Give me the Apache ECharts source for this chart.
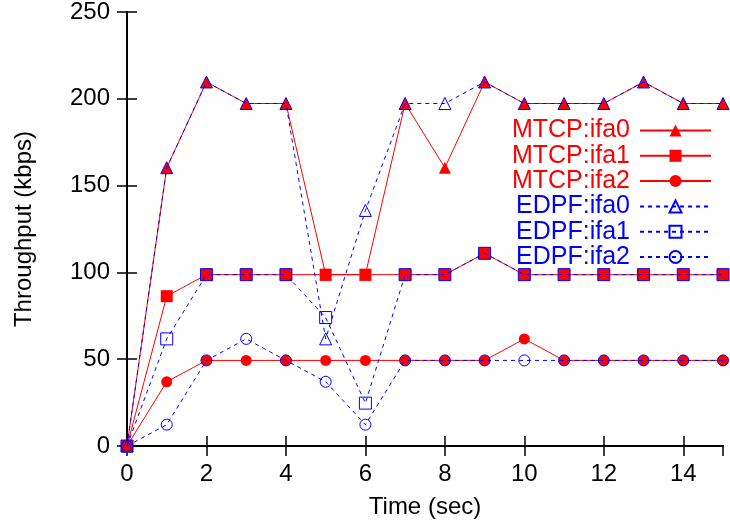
<!DOCTYPE html>
<html>
<head>
<meta charset="utf-8">
<script src="https://cdn.jsdelivr.net/npm/echarts@6/dist/echarts.min.js"></script>
<style>html,body{margin:0;padding:0;background:#fff;}#c{width:730px;height:524px;}</style>
</head>
<body>
<div id="c"></div>
<script>
var times = [0,1,2,3,4,5,6,7,8,9,10,11,12,13,14,15];
var mtcpIfa0 = [0,160.3,209.7,197.3,197.3,98.7,98.7,197.3,160.3,209.7,197.3,197.3,197.3,209.7,197.3,197.3];
var mtcpIfa1 = [0,86.3,98.7,98.7,98.7,98.7,98.7,98.7,98.7,111,98.7,98.7,98.7,98.7,98.7,98.7];
var mtcpIfa2 = [0,37,49.3,49.3,49.3,49.3,49.3,49.3,49.3,49.3,61.7,49.3,49.3,49.3,49.3,49.3];
var edpfIfa0 = [0,160.3,209.7,197.3,197.3,61.7,135.7,197.3,197.3,209.7,197.3,197.3,197.3,209.7,197.3,197.3];
var edpfIfa1 = [0,61.7,98.7,98.7,98.7,74,24.7,98.7,98.7,111,98.7,98.7,98.7,98.7,98.7,98.7];
var edpfIfa2 = [0,12.3,49.3,61.7,49.3,37,12.3,49.3,49.3,49.3,49.3,49.3,49.3,49.3,49.3,49.3];
var xTicks = [0,2,4,6,8,10,12,14];
var yTicks = [0,50,100,150,200,250];
var seriesNames = ['MTCP:ifa0','MTCP:ifa1','MTCP:ifa2','EDPF:ifa0','EDPF:ifa1','EDPF:ifa2'];

var RED = '#ff0000', BLUE = '#0000ff';
var FONT = 'Liberation Sans, Arial, sans-serif';

function pairs(vals){ return times.map(function(t,i){ return [t, vals[i]]; }); }

function mtcp(name, vals, symbol, size){
  return {
    name: name, type: 'line', data: pairs(vals), symbol: symbol, symbolSize: size,
    showAllSymbol: true, animation: false, z: 2,
    lineStyle: {color: RED, width: 1, type: 'solid'},
    itemStyle: {color: RED, borderWidth: 0}
  };
}
function edpf(name, vals, symbol, size){
  return {
    name: name, type: 'line', data: pairs(vals), symbol: symbol, symbolSize: size,
    showAllSymbol: true, animation: false, z: 3,
    lineStyle: {color: BLUE, width: 1, type: [4,4]},
    itemStyle: {color: 'rgba(0,0,0,0)', borderColor: BLUE, borderWidth: 1}
  };
}

var chart = echarts.init(document.getElementById('c'), null, {renderer: 'canvas'});
var axisLine = {show: true, lineStyle: {color: '#000', width: 2}};
var tick = {show: true, inside: true, length: 10, lineStyle: {color: '#000', width: 1.5}};
chart.setOption({
  animation: false,
  backgroundColor: '#fff',
  grid: {left: 127, right: 7, top: 12, bottom: 78, containLabel: false},
  legend: {
    orient: 'vertical', align: 'right', right: 18, top: 118, padding: 0,
    itemWidth: 71, itemHeight: 15, itemGap: 0.3,
    data: seriesNames,
    formatter: function(n){ return (n.indexOf('MTCP') === 0 ? '{r|' : '{b|') + n + '}'; },
    textStyle: {
      fontFamily: FONT, fontSize: 25,
      rich: {
        r: {color: RED, fontFamily: FONT, fontSize: 25, padding: [0,5,0,0]},
        b: {color: BLUE, fontFamily: FONT, fontSize: 25, padding: [0,5,0,0]}
      }
    }
  },
  xAxis: [{
    type: 'value', min: 0, max: 15, interval: 2, position: 'bottom',
    name: 'Time (sec)', nameLocation: 'middle', nameGap: 49,
    nameTextStyle: {fontFamily: FONT, fontSize: 24, color: '#000'},
    axisLine: axisLine, axisTick: tick, splitLine: {show: false},
    axisLabel: {fontFamily: FONT, fontSize: 24, color: '#000', margin: 16, showMaxLabel: false,
      formatter: function(v){ return xTicks.indexOf(v) >= 0 ? String(v) : ''; }}
  },{
    type: 'value', min: 0, max: 15, interval: 2, position: 'top',
    axisLine: axisLine, axisTick: tick, splitLine: {show: false}, axisLabel: {show: false}
  }],
  yAxis: [{
    type: 'value', min: 0, max: 250, interval: 50, position: 'left',
    name: 'Throughput (kbps)', nameLocation: 'middle', nameGap: 91,
    nameTextStyle: {fontFamily: FONT, fontSize: 24, color: '#000'},
    axisLine: axisLine, axisTick: tick, splitLine: {show: false},
    axisLabel: {fontFamily: FONT, fontSize: 24, color: '#000', margin: 17,
      formatter: function(v){ return yTicks.indexOf(v) >= 0 ? String(v) : ''; }}
  },{
    type: 'value', min: 0, max: 250, interval: 50, position: 'right',
    axisLine: axisLine, axisTick: tick, splitLine: {show: false}, axisLabel: {show: false}
  }],
  series: [
    mtcp(seriesNames[0], mtcpIfa0, 'triangle', 12),
    mtcp(seriesNames[1], mtcpIfa1, 'rect', 12),
    mtcp(seriesNames[2], mtcpIfa2, 'circle', 11),
    edpf(seriesNames[3], edpfIfa0, 'triangle', 12),
    edpf(seriesNames[4], edpfIfa1, 'rect', 12),
    edpf(seriesNames[5], edpfIfa2, 'circle', 11)
  ]
});
</script>
</body>
</html>
